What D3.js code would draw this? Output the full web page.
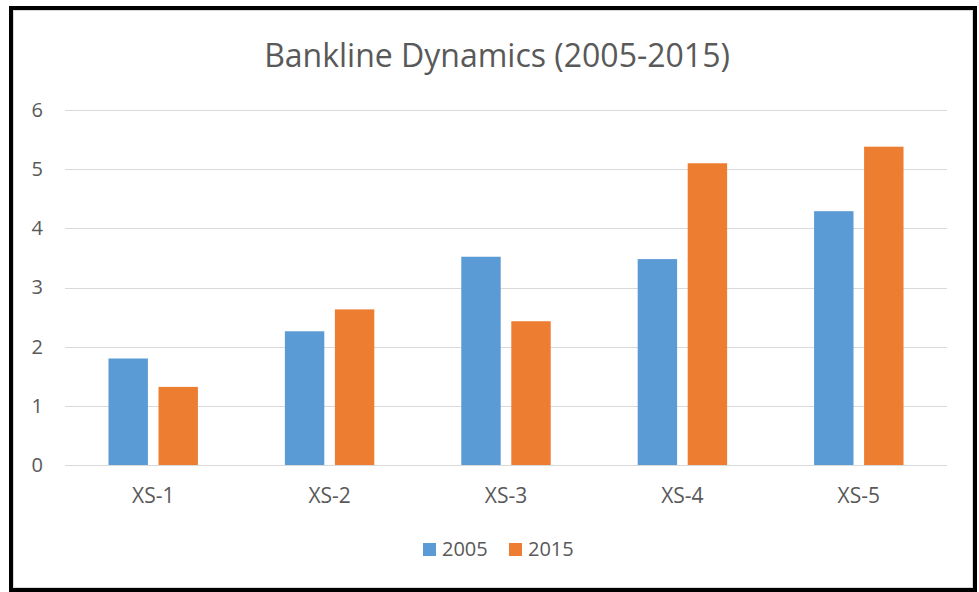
<!DOCTYPE html>
<html>
<head>
<meta charset="utf-8">
<script src="https://cdn.jsdelivr.net/npm/d3@7"></script>
<style>
	body { margin: 0; background: #fff; }
	svg { display: block; font-family: 'Open Sans', 'Noto Sans', sans-serif; }
</style>
</head>
<body>
<div id="chart"></div>
<script>
const categories = ['XS-1', 'XS-2', 'XS-3', 'XS-4', 'XS-5'];
const series = ['2005', '2015'];
const values2005 = [1.8, 2.26, 3.52, 3.48, 4.29];
const values2015 = [1.32, 2.63, 2.43, 5.1, 5.38];
const yTicks = [0, 1, 2, 3, 4, 5, 6];
const colors = ['#5b9bd5', '#ed7d31'];

const width = 979;
const height = 592;

const svg = d3
	.select('#chart')
	.append('svg')
	.attr('width', width)
	.attr('height', height);

// frame
svg.append('rect')
	.attr('x', 11)
	.attr('y', 8)
	.attr('width', 964)
	.attr('height', 582)
	.attr('fill', '#fff')
	.attr('stroke', '#000')
	.attr('stroke-width', 4);

svg.append('rect')
	.attr('x', 13.5)
	.attr('y', 10.5)
	.attr('width', 959)
	.attr('height', 577)
	.attr('fill', 'none')
	.attr('stroke', '#d9d9d9')
	.attr('stroke-width', 1);

const x0 = d3.scaleBand()
	.domain(categories)
	.range([65, 947])
	.paddingInner(0.493)
	.paddingOuter(0.2465);

const x1 = d3.scaleBand()
	.domain(series)
	.range([0, x0.bandwidth()])
	.paddingInner(0.212);

const y = d3.scaleLinear()
	.domain([0, 6])
	.range([465, 110]);

// gridlines
svg.append('g')
	.selectAll('line')
	.data(yTicks)
	.enter()
	.append('line')
	.attr('x1', 65)
	.attr('x2', 947)
	.attr('y1', d => Math.round(y(d)) + 0.5)
	.attr('y2', d => Math.round(y(d)) + 0.5)
	.attr('stroke', '#d9d9d9')
	.attr('stroke-width', 1.2);

// y axis labels
const yAxis = svg.append('g')
	.attr('transform', 'translate(65,0)')
	.call(d3.axisLeft(y).tickValues(yTicks).tickFormat(d3.format('d')).tickSize(0).tickPadding(22));
yAxis.select('.domain').remove();
yAxis.selectAll('text')
	.attr('font-size', 20)
	.attr('font-family', "'Open Sans', sans-serif")
	.attr('fill', '#595959');

// bars
const rows = categories.map((c, i) => ({ cat: c, vals: [values2005[i], values2015[i]] }));

const groups = svg.append('g')
	.selectAll('g')
	.data(rows)
	.enter()
	.append('g')
	.attr('transform', d => `translate(${x0(d.cat)},0)`);

groups.selectAll('rect')
	.data(d => d.vals.map((v, j) => ({ key: series[j], v, j })))
	.enter()
	.append('rect')
	.attr('x', d => x1(d.key))
	.attr('width', x1.bandwidth())
	.attr('y', d => y(d.v))
	.attr('height', d => y(0) - y(d.v))
	.attr('fill', d => colors[d.j]);

// x axis labels
const xAxis = svg.append('g')
	.attr('transform', 'translate(0,465)')
	.call(d3.axisBottom(x0).tickSize(0).tickPadding(23));
xAxis.select('.domain').remove();
xAxis.selectAll('text')
	.attr('font-size', 21)
	.attr('font-family', "'Open Sans', sans-serif")
	.attr('fill', '#595959');

// title
svg.append('text')
	.attr('x', 497)
	.attr('y', 67)
	.attr('text-anchor', 'middle')
	.attr('font-size', 32)
	.attr('fill', '#595959')
	.text('Bankline Dynamics (2005-2015)');

// legend
const legend = svg.append('g')
	.selectAll('g')
	.data(series)
	.enter()
	.append('g')
	.attr('transform', (d, i) => `translate(${423 + i * 86},0)`);

legend.append('rect')
	.attr('x', 0)
	.attr('y', 543)
	.attr('width', 13)
	.attr('height', 13)
	.attr('fill', (d, i) => colors[i]);

legend.append('text')
	.attr('x', 19)
	.attr('y', 556)
	.attr('font-size', 20)
	.attr('fill', '#595959')
	.text(d => d);
</script>
</body>
</html>
